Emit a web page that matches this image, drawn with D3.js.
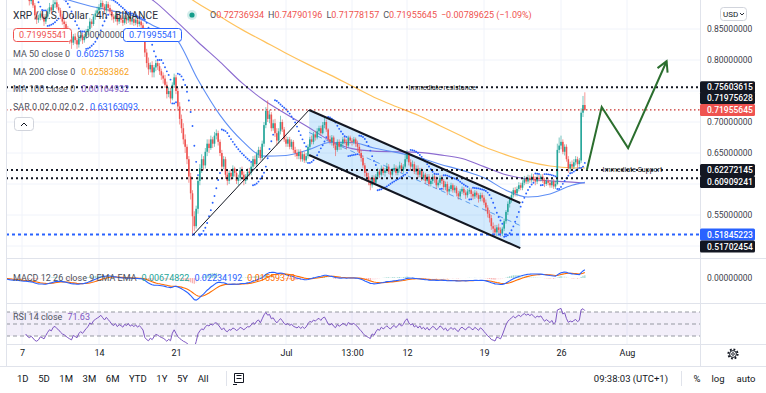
<!DOCTYPE html>
<html>
<head>
<meta charset="utf-8">
<script src="https://cdn.jsdelivr.net/npm/d3@7"></script>
<style>
  body { margin: 0; background: #fff; }
  svg { display: block; }
</style>
</head>
<body>
<div id="chart"></div>
<script>
// XRP/USD 4h candles, 5 Jun 2021 00:00 onward (open = previous close)
const firstOpen = 0.955;
const closes = [
  .948,.935,.941,.928,.930,.922, .918,.925,.931,.922,.915,.910, // Jun 5-6
  .912,.905,.915,.902,.895,.898, .888,.872,.865,.868,.875,.870, // Jun 7-8
  .862,.870,.878,.885,.880,.890, .893,.885,.880,.870,.862,.858,
  .850,.842,.835,.828,.838,.832, .825,.835,.840,.832,.838,.845,
  .850,.862,.858,.870,.875,.880, .885,.892,.886,.880,.890,.884, // Jun 13-14
  .878,.870,.866,.872,.862,.868, .865,.860,.868,.864,.870,.862,
  .866,.860,.865,.858,.862,.856, .848,.812,.795,.785,.792,.780,
  .788,.795,.790,.782,.775,.770, .760,.745,.750,.738,.760,.772,
  .750,.725,.705,.690,.672,.660, .640,.612,.585,.548,.532,.560, // Jun 21-22
  .605,.625,.640,.630,.652,.665, .658,.672,.665,.678,.682,.668,
  .650,.628,.640,.615,.605,.618, .612,.625,.618,.605,.610,.622,
  .615,.605,.612,.620,.618,.628, .640,.632,.648,.655,.642,.665,
  .695,.718,.705,.712,.690,.698, .682,.670,.685,.700,.688,.672, // Jun 29-30
  .665,.672,.660,.668,.655,.650, .645,.652,.640,.648,.638,.645,
  .660,.672,.668,.680,.675,.685, .690,.682,.695,.700,.688,.672,
  .668,.675,.662,.655,.668,.660, .665,.672,.668,.662,.675,.670,
  .668,.672,.665,.660,.650,.642, .630,.618,.612,.605,.598,.610, // Jul 7-8
  .602,.612,.620,.615,.625,.618, .622,.628,.620,.615,.622,.626,
  .618,.625,.630,.622,.628,.640, .648,.635,.628,.632,.620,.625,
  .615,.622,.610,.615,.605,.612, .600,.605,.612,.608,.598,.602,
  .610,.605,.595,.600,.588,.592, .598,.590,.594,.585,.580,.588,
  .592,.586,.582,.588,.590,.584, .580,.586,.582,.576,.582,.578,
  .570,.562,.552,.545,.532,.528, .522,.530,.526,.520,.528,.540, // Jul 19-20
  .555,.568,.575,.582,.590,.585, .592,.598,.594,.602,.608,.604,
  .610,.606,.612,.608,.604,.610, .608,.612,.606,.600,.605,.602,
  .598,.604,.596,.600,.655,.662, .668,.652,.660,.640,.625,.632,
  .628,.635,.640,.632,.638,.715, .7274,.71955645                 // Jul 27-28
];
const highs = [
  .962,.952,.946,.944,.936,.934, .928,.929,.937,.935,.926,.920,
  .918,.916,.920,.918,.906,.904, .902,.892,.878,.873,.879,.880,
  .874,.874,.883,.892,.889,.898, .900,.897,.890,.884,.874,.866,
  .862,.855,.846,.840,.842,.843, .836,.840,.846,.844,.842,.850,
  .855,.868,.866,.874,.880,.886, .890,.898,.896,.890,.895,.894,
  .889,.882,.874,.877,.876,.872, .873,.870,.872,.872,.875,.874,
  .870,.869,.869,.868,.866,.865, .860,.852,.818,.804,.796,.798,
  .792,.800,.800,.795,.786,.780, .776,.765,.756,.755,.764,.778,
  .776,.755,.732,.712,.698,.680, .664,.645,.618,.590,.556,.565,
  .612,.632,.648,.645,.658,.672, .672,.678,.676,.684,.688,.686,
  .672,.655,.645,.644,.622,.622, .624,.630,.628,.622,.615,.627,
  .628,.620,.616,.625,.626,.634, .645,.646,.652,.660,.660,.670,
  .700,.724,.735,.720,.716,.704, .705,.690,.690,.710,.704,.692,
  .678,.676,.676,.672,.671,.660, .656,.656,.656,.652,.652,.650,
  .664,.676,.678,.684,.686,.690, .694,.694,.700,.708,.704,.690,
  .678,.679,.678,.666,.672,.672, .669,.676,.676,.672,.678,.678,
  .674,.676,.675,.670,.664,.655, .646,.634,.624,.618,.610,.614,
  .614,.616,.626,.624,.630,.628, .626,.634,.632,.624,.626,.632,
  .630,.628,.636,.634,.632,.648, .655,.652,.640,.638,.636,.630,
  .630,.626,.626,.620,.618,.616, .616,.608,.616,.616,.612,.606,
  .614,.614,.608,.604,.604,.596, .602,.601,.598,.597,.589,.592,
  .596,.595,.590,.592,.594,.593, .588,.590,.589,.585,.586,.586,
  .582,.575,.566,.558,.550,.538, .534,.534,.536,.530,.531,.544,
  .558,.572,.580,.588,.594,.595, .596,.603,.602,.606,.613,.612,
  .615,.614,.617,.616,.612,.614, .615,.616,.616,.610,.608,.610,
  .606,.608,.608,.605,.665,.675, .678,.672,.664,.664,.645,.636,
  .638,.640,.645,.644,.642,.722, .742,.74790196
];
const lows = [
  .942,.930,.931,.924,.924,.918, .912,.914,.920,.918,.910,.904,
  .904,.900,.902,.898,.888,.890, .884,.866,.858,.860,.864,.865,
  .855,.858,.866,.874,.875,.877, .884,.882,.876,.866,.857,.850,
  .845,.836,.826,.818,.824,.826, .818,.820,.830,.826,.828,.834,
  .840,.846,.852,.855,.865,.870, .874,.880,.882,.874,.876,.878,
  .872,.864,.860,.862,.856,.858, .860,.855,.857,.858,.860,.857,
  .857,.855,.856,.853,.854,.848, .842,.805,.788,.776,.780,.772,
  .772,.782,.784,.776,.768,.762, .755,.738,.740,.730,.735,.755,
  .745,.718,.696,.682,.664,.650, .632,.602,.575,.517,.524,.528,
  .552,.598,.618,.622,.625,.645, .650,.655,.658,.660,.672,.662,
  .645,.620,.624,.608,.598,.600, .606,.608,.612,.600,.598,.605,
  .610,.598,.600,.606,.612,.614, .624,.628,.628,.642,.638,.638,
  .660,.690,.700,.698,.685,.686, .676,.662,.665,.680,.684,.668,
  .660,.660,.656,.656,.650,.644, .640,.640,.636,.636,.634,.634,
  .641,.656,.664,.664,.670,.672, .680,.678,.680,.690,.684,.668,
  .664,.662,.658,.645,.652,.655, .655,.660,.664,.656,.659,.665,
  .662,.664,.660,.652,.645,.636, .626,.612,.604,.598,.590,.594,
  .598,.598,.608,.610,.612,.614, .612,.618,.616,.610,.612,.619,
  .614,.614,.620,.618,.618,.625, .636,.630,.622,.622,.616,.615,
  .610,.611,.605,.606,.600,.602, .596,.596,.600,.602,.592,.594,
  .598,.600,.590,.590,.582,.584, .588,.586,.586,.580,.575,.576,
  .584,.582,.576,.578,.584,.578, .575,.576,.578,.570,.572,.572,
  .566,.556,.546,.538,.526,.520, .516,.516,.520,.515,.516,.524,
  .536,.550,.562,.570,.578,.580, .580,.588,.590,.590,.598,.600,
  .600,.602,.602,.604,.598,.600, .604,.604,.602,.595,.597,.598,
  .594,.594,.592,.592,.598,.650, .656,.648,.646,.636,.618,.620,
  .622,.624,.630,.626,.628,.634, .708,.71778157
];

const maDays = [-2,0,2,4,6,8,10,12,14,16,18,20,22,24,26,28,30,32,34,36,38,40,42,44,46,48,50,51.17];
const ma50  = [.935,.925,.91,.898,.888,.88,.872,.855,.835,.768,.711,.670,.645,.646,.655,.667,.667,.658,.651,.643,.632,.622,.610,.590,.579,.584,.598,.6026];
const ma100 = [.98,.97,.96,.95,.94,.93,.915,.895,.863,.829,.797,.763,.735,.713,.692,.670,.657,.653,.652,.651,.647,.641,.628,.615,.608,.605,.603,.6016];
const ma200 = [1.02,1.01,1.0,.99,.98,.97,.955,.935,.915,.891,.870,.849,.830,.811,.793,.776,.758,.740,.725,.711,.694,.677,.660,.647,.636,.629,.626,.6258];

// horizontal levels
const resistanceLevel = 0.75603615;
const lastPrice = 0.71955645;
const supportLevels = [0.62272145, 0.60909241];
const blueLevel = 0.51845223;
const extraLabels = [0.71975628, 0.51702454];

// hand drawings as [day, price]
const trendLine = [[15.5, 0.517], [26.1, 0.7194]];
const channelUpper = [[26.1, 0.7194], [45.3, 0.5694]];
const channelLower = [[26.1, 0.6468], [45.3, 0.4966]];
const projection = [[51.35, 0.6226], [52.7, 0.7242], [55.1, 0.658], [58.6, 0.798]];
const resistanceTextDay = 38.2;
const supportTextDay = 55.5;

// axes
const priceTicks = [0.85, 0.80, 0.70, 0.65, 0.55];
const gridPrices = [0.50, 0.55, 0.60, 0.65, 0.70, 0.75, 0.80, 0.85];
const timeTickDays = [0, 7, 14, 24, 30, 35, 42, 49, 55];
const timeTickLabels = ["7", "14", "21", "Jul", "13:00", "12", "19", "26", "Aug"];
const rangeButtons = ["1D", "5D", "1M", "3M", "6M", "YTD", "1Y", "5Y", "All"];

const FONT = "Roboto, 'Liberation Sans', sans-serif";
const W = 766, H = 393;
const left = 6, right = 700;
const mainBottom = 258, macdBottom = 303, rsiBottom = 344, toolbarTop = 366;

const day = d => new Date(Date.UTC(2021, 5, 7) + d * 864e5);
const x = d3.scaleUtc().domain([day(0), day(49)]).range([22, 561]);
const y = d3.scaleLinear().domain([0.55, 0.80]).range([215, 60]);
const yM = d3.scaleLinear().domain([0, 0.05]).range([278, 261]);
const yR = d3.scaleLinear().domain([30, 70]).range([336, 312]);

const candles = closes.map((c, i) => {
  const o = i === 0 ? firstOpen : closes[i - 1];
  return { t: day(-2 + i / 6), o, c, h: Math.max(highs[i], o, c), l: Math.min(lows[i], o, c) };
});

function ema(vals, n) {
  const k = 2 / (n + 1);
  let e = vals[0];
  return vals.map(v => (e = v * k + e * (1 - k)));
}

function rsi(vals, n) {
  let g = 0, l = 0;
  const out = [null];
  for (let i = 1; i < vals.length; i++) {
    const ch = vals[i] - vals[i - 1];
    const up = Math.max(ch, 0), dn = Math.max(-ch, 0);
    if (i <= n) {
      g += up; l += dn;
      if (i === n) { g /= n; l /= n; out.push(100 - 100 / (1 + g / l)); }
      else out.push(null);
    } else {
      g = (g * (n - 1) + up) / n;
      l = (l * (n - 1) + dn) / n;
      out.push(l === 0 ? 100 : 100 - 100 / (1 + g / l));
    }
  }
  return out;
}

function parabolicSar(h, l, step, maxAf) {
  let up = false, af = step, ep = l[0], sar = h[0];
  const out = [sar];
  for (let i = 1; i < h.length; i++) {
    sar = sar + af * (ep - sar);
    if (up) {
      sar = Math.min(sar, l[i - 1], l[Math.max(i - 2, 0)]);
      if (l[i] < sar) { up = false; sar = ep; ep = l[i]; af = step; }
      else if (h[i] > ep) { ep = h[i]; af = Math.min(af + step, maxAf); }
    } else {
      sar = Math.max(sar, h[i - 1], h[Math.max(i - 2, 0)]);
      if (h[i] > sar) { up = true; sar = ep; ep = h[i]; af = step; }
      else if (l[i] < ep) { ep = l[i]; af = Math.min(af + step, maxAf); }
    }
    out.push(sar);
  }
  return out;
}

const ema12 = ema(closes, 12), ema26 = ema(closes, 26);
const macd = closes.map((c, i) => ema12[i] - ema26[i]);
const signal = ema(macd, 9);
const rsiVals = rsi(closes, 14);
const sar = parabolicSar(candles.map(d => d.h), candles.map(d => d.l), 0.02, 0.2);

const svg = d3.select("#chart").append("svg")
  .attr("width", W).attr("height", H)
  .attr("font-family", FONT);

const defs = svg.append("defs");
defs.append("clipPath").attr("id", "mainClip").append("rect")
  .attr("x", left).attr("y", 0).attr("width", right - left).attr("height", mainBottom);
defs.append("clipPath").attr("id", "macdClip").append("rect")
  .attr("x", left).attr("y", mainBottom).attr("width", right - left).attr("height", macdBottom - mainBottom);
defs.append("clipPath").attr("id", "rsiClip").append("rect")
  .attr("x", left).attr("y", macdBottom).attr("width", right - left).attr("height", rsiBottom - macdBottom);
defs.append("clipPath").attr("id", "rsiAxisClip").append("rect")
  .attr("x", right).attr("y", macdBottom + 0.5).attr("width", W - right).attr("height", rsiBottom - macdBottom);
defs.append("marker").attr("id", "arrowHead")
  .attr("viewBox", "-12 -8 14 16").attr("refX", 0).attr("refY", 0)
  .attr("markerWidth", 14).attr("markerHeight", 16).attr("markerUnits", "userSpaceOnUse")
  .attr("orient", "auto")
  .append("path").attr("d", "M-10,-5.5L0,0L-10,5.5")
  .attr("fill", "none").attr("stroke", "#2b6e2e").attr("stroke-width", 2);

// grid
svg.append("g").selectAll("line").data(timeTickDays).join("line")
  .attr("x1", d => x(day(d))).attr("x2", d => x(day(d)))
  .attr("y1", 0).attr("y2", rsiBottom)
  .attr("stroke", "#f0f3fa");
svg.append("g").attr("clip-path", "url(#mainClip)")
  .selectAll("line").data(gridPrices).join("line")
  .attr("x1", left).attr("x2", right).attr("y1", d => y(d)).attr("y2", d => y(d))
  .attr("stroke", "#f0f3fa");

// ---------- main pane ----------
const main = svg.append("g").attr("clip-path", "url(#mainClip)");

const chanPoly = [...channelUpper, ...channelLower.slice().reverse()];
main.append("path")
  .attr("d", d3.line().x(p => x(day(p[0]))).y(p => y(p[1]))(chanPoly) + "Z")
  .attr("fill", "rgba(33,150,243,0.2)");
const mid = [0, 1].map(k => [channelUpper[k][0], (channelUpper[k][1] + channelLower[k][1]) / 2]);
main.append("path")
  .attr("d", d3.line().x(p => x(day(p[0]))).y(p => y(p[1]))(mid))
  .attr("fill", "none").attr("stroke", "#5c9ded").attr("stroke-width", 1)
  .attr("stroke-dasharray", "5,4");

const maLine = vals => d3.line()
  .x((v, i) => x(day(maDays[i]))).y(v => y(v))
  .curve(d3.curveMonotoneX)(vals);
main.append("path").attr("d", maLine(ma200)).attr("fill", "none").attr("stroke", "#ffc25c").attr("stroke-width", 1.2);
main.append("path").attr("d", maLine(ma100)).attr("fill", "none").attr("stroke", "#8c6bd0").attr("stroke-width", 1.1);
main.append("path").attr("d", maLine(ma50)).attr("fill", "none").attr("stroke", "#5f8ff5").attr("stroke-width", 1.1);

const up = "#26a69a", down = "#ef5350";
const cg = main.append("g");
cg.selectAll("line").data(candles).join("line")
  .attr("x1", d => x(d.t)).attr("x2", d => x(d.t))
  .attr("y1", d => y(d.h)).attr("y2", d => y(d.l))
  .attr("stroke", d => d.c >= d.o ? up : down).attr("stroke-width", 0.8).attr("opacity", 0.75);
cg.selectAll("rect").data(candles).join("rect")
  .attr("x", d => x(d.t) - 0.8).attr("width", 1.6)
  .attr("y", d => y(Math.max(d.o, d.c)))
  .attr("height", d => Math.max(0.8, Math.abs(y(d.o) - y(d.c))))
  .attr("fill", d => d.c >= d.o ? up : down);

main.append("g").selectAll("circle").data(sar.slice(1)).join("circle")
  .attr("cx", (v, i) => x(candles[i + 1].t)).attr("cy", v => y(v))
  .attr("r", 0.95).attr("fill", "#2962ff");

// level lines
const hline = (v, color, w, dash) => main.append("line")
  .attr("x1", left).attr("x2", right).attr("y1", y(v)).attr("y2", y(v))
  .attr("stroke", color).attr("stroke-width", w).attr("stroke-dasharray", dash);
hline(resistanceLevel, "#131722", 2, "2,3");
hline(lastPrice, "#c8302c", 1.3, "1.5,2.5");
supportLevels.forEach(v => hline(v, "#131722", 2, "2,3"));
hline(blueLevel, "#2962ff", 2, "3,3");

main.append("text").attr("x", x(day(resistanceTextDay))).attr("y", y(resistanceLevel))
  .attr("dy", "0.35em").attr("text-anchor", "middle")
  .attr("font-size", 7).attr("fill", "#131722").text("Immediate resistance");
main.append("text").attr("x", x(day(supportTextDay))).attr("y", y(supportLevels[0]))
  .attr("dy", "0.35em").attr("text-anchor", "middle")
  .attr("font-size", 7).attr("fill", "#131722").text("Immediate Support");

// drawings
const seg = pts => d3.line().x(p => x(day(p[0]))).y(p => y(p[1]))(pts);
main.append("path").attr("d", seg(trendLine)).attr("stroke", "#131722").attr("stroke-width", 1).attr("fill", "none");
main.append("path").attr("d", seg(channelUpper)).attr("stroke", "#131722").attr("stroke-width", 2).attr("fill", "none");
main.append("path").attr("d", seg(channelLower)).attr("stroke", "#131722").attr("stroke-width", 2).attr("fill", "none");
main.append("path").attr("d", seg(projection))
  .attr("stroke", "#2b6e2e").attr("stroke-width", 2).attr("fill", "none")
  .attr("stroke-linejoin", "miter").attr("marker-end", "url(#arrowHead)");

// ---------- MACD pane ----------
const mg = svg.append("g").attr("clip-path", "url(#macdClip)");
mg.selectAll("rect").data(candles).join("rect")
  .attr("x", d => x(d.t) - 0.6).attr("width", 1.2)
  .attr("y", (d, i) => Math.min(yM(0), yM(macd[i] - signal[i])))
  .attr("height", (d, i) => Math.abs(yM(macd[i] - signal[i]) - yM(0)))
  .attr("fill", (d, i) => {
    const h = macd[i] - signal[i], p = i ? macd[i - 1] - signal[i - 1] : h;
    return h >= 0 ? (h >= p ? "#26a69a" : "#b2dfdb") : (h <= p ? "#ef5350" : "#ffcdd2");
  }).attr("opacity", 0.45);
const mline = vals => d3.line().x((v, i) => x(candles[i].t)).y(v => yM(v))(vals);
mg.append("path").attr("d", mline(signal)).attr("fill", "none").attr("stroke", "#ff6d00").attr("stroke-width", 1.1);
mg.append("path").attr("d", mline(macd)).attr("fill", "none").attr("stroke", "#2962ff").attr("stroke-width", 1.1);

// ---------- RSI pane ----------
const rg = svg.append("g").attr("clip-path", "url(#rsiClip)");
rg.append("rect").attr("x", left).attr("width", right - left)
  .attr("y", yR(70)).attr("height", yR(30) - yR(70))
  .attr("fill", "rgba(126,87,194,0.1)");
rg.selectAll("line").data([70, 50, 30]).join("line")
  .attr("x1", left).attr("x2", right).attr("y1", d => yR(d)).attr("y2", d => yR(d))
  .attr("stroke", "#9598a1").attr("stroke-dasharray", "4,3");
rg.append("path")
  .attr("d", d3.line().defined(v => v !== null).x((v, i) => x(candles[i].t)).y(v => yR(v))(rsiVals))
  .attr("fill", "none").attr("stroke", "#7e57c2").attr("stroke-width", 1);

// separators
const sepColor = "#e0e3eb";
[mainBottom, macdBottom, rsiBottom].forEach(v =>
  svg.append("line").attr("x1", left).attr("x2", W).attr("y1", v + 0.5).attr("y2", v + 0.5).attr("stroke", sepColor));
svg.append("line").attr("x1", 0).attr("x2", W).attr("y1", toolbarTop + 0.5).attr("y2", toolbarTop + 0.5).attr("stroke", sepColor);
svg.append("line").attr("x1", right + 0.5).attr("x2", right + 0.5).attr("y1", 0).attr("y2", toolbarTop).attr("stroke", sepColor);
svg.append("line").attr("x1", left + 0.5).attr("x2", left + 0.5).attr("y1", 0).attr("y2", toolbarTop).attr("stroke", sepColor);

// ---------- axes ----------
const styleAxis = g => {
  g.attr("font-family", FONT).attr("font-size", 8.5);
  g.select(".domain").remove();
  g.selectAll("text").attr("fill", "#3d404b");
};
svg.append("g").attr("transform", `translate(${right},0)`)
  .call(d3.axisRight(y).tickValues(priceTicks).tickFormat(d3.format(".8f")).tickSize(0).tickPadding(7))
  .call(styleAxis);
svg.append("g").attr("transform", `translate(${right},0)`)
  .call(d3.axisRight(yM).tickValues([0]).tickFormat(d3.format(".8f")).tickSize(0).tickPadding(7))
  .call(styleAxis);
svg.append("g").attr("transform", `translate(${right},0)`).attr("clip-path", "url(#rsiAxisClip)")
  .call(d3.axisRight(yR).tickValues([80, 40]).tickFormat(d3.format(".2f")).tickSize(0).tickPadding(7))
  .call(styleAxis);
svg.append("g").attr("transform", `translate(0,${rsiBottom})`)
  .call(d3.axisBottom(x).tickValues(timeTickDays.map(day)).tickFormat((d, i) => timeTickLabels[i]).tickSize(0).tickPadding(6))
  .call(styleAxis)
  .call(g => g.selectAll("text").attr("font-size", 9).attr("fill", "#131722"));

// price labels on the scale
const tagH = 12;
const tags = [
  { v: resistanceLevel, fill: "#131722" },
  { v: lastPrice, fill: "#ef5350" },
  { v: supportLevels[0], fill: "#131722" },
  { v: blueLevel, fill: "#2962ff" },
  { v: extraLabels[0], fill: "#131722" },
  { v: supportLevels[1], fill: "#131722" },
  { v: extraLabels[1], fill: "#131722" }
];
const placed = [];
tags.forEach(t => {
  let yy = y(t.v);
  placed.forEach(p => {
    if (Math.abs(yy - p.y) < tagH) yy = t.v > p.v ? p.y - tagH : p.y + tagH;
  });
  t.y = yy;
  placed.push(t);
});
const tg = svg.append("g").selectAll("g").data(tags).join("g")
  .attr("transform", d => `translate(${right},${d.y})`);
tg.append("rect").attr("x", 0).attr("y", -tagH / 2).attr("width", 55).attr("height", tagH)
  .attr("rx", 1.5).attr("fill", d => d.fill);
tg.append("text").attr("x", 7).attr("dy", "0.35em").attr("font-size", 8.5)
  .attr("font-weight", 500).attr("fill", "#fff").text(d => d3.format(".8f")(d.v));

// ---------- legends ----------
const lg = svg.append("g").attr("font-size", 9);
function legendRow(yy, x0, parts, size) {
  const t = lg.append("text").attr("x", x0).attr("y", yy).attr("dy", "0.35em");
  if (size) t.attr("font-size", size);
  parts.forEach(p => t.append("tspan").attr("fill", p[1]).attr("dx", p[2] || 0).text(p[0]));
  return t;
}
const gray = "#50535e", red = "#ef5350";
legendRow(15, 13, [["XRP / U.S. Dollar · 4h · BINANCE", "#2a2e39"]], 10.2);
lg.append("circle").attr("cx", 192).attr("cy", 15).attr("r", 5).attr("fill", "rgba(38,166,154,0.2)");
lg.append("circle").attr("cx", 192).attr("cy", 15).attr("r", 2.6).attr("fill", "#139d8a");
legendRow(15, 210, [
  ["O", gray], ["0.72736934", red], ["H", gray, 4], ["0.74790196", red],
  ["L", gray, 4], ["0.71778157", red], ["C", gray, 4], ["0.71955645", red],
  ["−0.00789625 (−1.09%)", red, 4]
]);

lg.append("rect").attr("x", 13.5).attr("y", 28.5).attr("width", 58).attr("height", 13).attr("rx", 3)
  .attr("fill", "#fff").attr("stroke", red);
legendRow(35, 19, [["0.71995541", red]]);
legendRow(35, 77, [["0.00000000", gray]]);
lg.append("rect").attr("x", 123.5).attr("y", 28.5).attr("width", 58).attr("height", 13).attr("rx", 3)
  .attr("fill", "#fff").attr("stroke", "#2962ff");
legendRow(35, 129, [["0.71995541", "#2962ff"]]);

legendRow(54, 13, [["MA 50 close 0", gray], ["0.60257158", "#2962ff", 6]]);
legendRow(71.5, 13, [["MA 200 close 0", gray], ["0.62583862", "#f7a21b", 6]]);
legendRow(89, 13, [["MA 100 close 0", gray], ["0.60164932", "#7e57c2", 6]]);
legendRow(107, 13, [["SAR 0.02 0.02 0.2", gray], ["0.63163093", "#2962ff", 6]]);

lg.append("rect").attr("x", 14.5).attr("y", 117.5).attr("width", 19).attr("height", 13).attr("rx", 3)
  .attr("fill", "#fff").attr("stroke", "#d1d4dc");
lg.append("path").attr("d", "M21,126L24,123L27,126").attr("fill", "none").attr("stroke", "#131722").attr("stroke-width", 1);

legendRow(278, 13, [
  ["MACD 12 26 close 9 EMA EMA", gray], ["0.00674822", "#26a69a", 5],
  ["0.02234192", "#2962ff", 5], ["0.01559370", "#ff6d00", 5]
]);
legendRow(317, 13, [["RSI 14 close", gray], ["71.63", "#7e57c2", 5]]);

// currency button
lg.append("rect").attr("x", 720.5).attr("y", 7.5).attr("width", 26).attr("height", 13).attr("rx", 3)
  .attr("fill", "#fff").attr("stroke", "#d1d4dc");
legendRow(14, 723, [["USD", "#131722"]], 8);
lg.append("path").attr("d", "M740,13L742,15L744,13").attr("fill", "none").attr("stroke", "#131722").attr("stroke-width", 0.9);

// gear icon
const gear = svg.append("g").attr("transform", "translate(733,354)");
gear.append("circle").attr("r", 4.6).attr("fill", "none").attr("stroke", "#131722")
  .attr("stroke-width", 2).attr("stroke-dasharray", "1.8,1.8");
gear.append("circle").attr("r", 3.4).attr("fill", "#fff").attr("stroke", "#131722").attr("stroke-width", 1);
gear.append("circle").attr("r", 1.3).attr("fill", "none").attr("stroke", "#131722").attr("stroke-width", 0.9);

// ---------- bottom toolbar ----------
const tb = svg.append("g").attr("font-size", 9.5).attr("fill", "#131722");
let bx = 17;
rangeButtons.forEach(label => {
  const t = tb.append("text").attr("x", bx).attr("y", 379).attr("dy", "0.35em").text(label);
  bx += t.node().getComputedTextLength() + 9.6;
});
tb.append("line").attr("x1", 226.5).attr("x2", 226.5).attr("y1", 371).attr("y2", 386).attr("stroke", sepColor);
tb.append("path").attr("d", "M234.5,373.5h9v9h-9z M236.5,375.5h5 M236.5,378.5h5 M233,384.5h4")
  .attr("fill", "none").attr("stroke", "#131722").attr("stroke-width", 1);
tb.append("text").attr("x", 668).attr("y", 379).attr("dy", "0.35em").attr("text-anchor", "end").text("09:38:03 (UTC+1)");
tb.append("line").attr("x1", 681.5).attr("x2", 681.5).attr("y1", 371).attr("y2", 386).attr("stroke", sepColor);
tb.append("text").attr("x", 697).attr("y", 379).attr("dy", "0.35em").attr("text-anchor", "middle").text("%");
tb.append("text").attr("x", 718).attr("y", 379).attr("dy", "0.35em").attr("text-anchor", "middle").text("log");
tb.append("text").attr("x", 746).attr("y", 379).attr("dy", "0.35em").attr("text-anchor", "middle").text("auto");
</script>
</body>
</html>
